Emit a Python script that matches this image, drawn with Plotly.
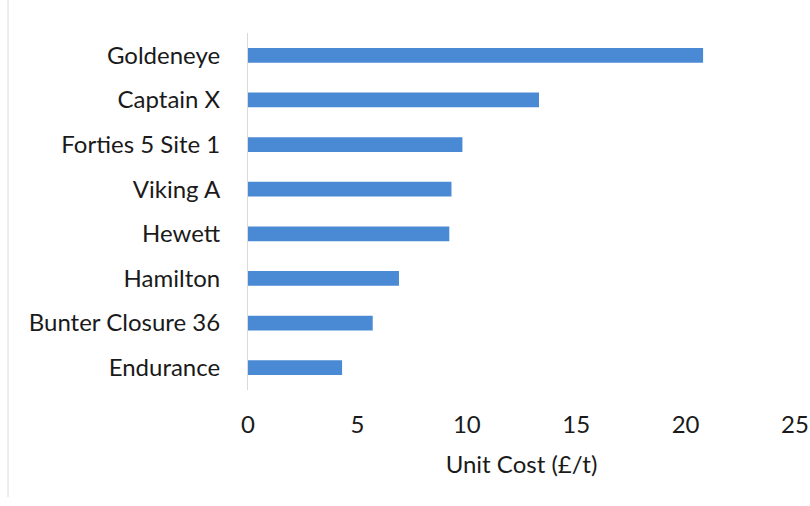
import plotly.graph_objects as go

# Storage sites, listed top to bottom, with unit cost in £ per tonne
sites = ["Goldeneye", "Captain X", "Forties 5 Site 1", "Viking A",
         "Hewett", "Hamilton", "Bunter Closure 36", "Endurance"]
unit_cost = [20.8, 13.3, 9.8, 9.3, 9.2, 6.9, 5.7, 4.3]
x_ticks = [0, 5, 10, 15, 20, 25]

FONT = "Lato"
TEXT = "#1a1a1a"

fig = go.Figure(
    go.Bar(
        x=unit_cost,
        y=sites,
        orientation="h",
        marker=dict(color="#4a8ad4", line=dict(width=0)),
    )
)

fig.update_layout(
    width=810,
    height=506,
    margin=dict(l=248, r=15, t=33, b=116),
    paper_bgcolor="white",
    plot_bgcolor="white",
    showlegend=False,
    bargap=0.67,
    font=dict(family=FONT, size=24, color=TEXT),
    xaxis=dict(
        range=[0, 25],
        tickvals=x_ticks,
        ticktext=[str(v) for v in x_ticks],
        automargin=False,
        showgrid=False,
        zeroline=False,
        showline=False,
        ticks="",
        ticklabelstandoff=18,
        tickfont=dict(family=FONT, size=24, color=TEXT),
        title=dict(text="Unit Cost (£/t)", standoff=19,
                   font=dict(family=FONT, size=24, color=TEXT)),
    ),
    yaxis=dict(
        categoryorder="array",
        categoryarray=sites,
        autorange="reversed",
        automargin=False,
        showgrid=False,
        zeroline=False,
        showline=True,
        linecolor="#d9d9d9",
        linewidth=1,
        ticks="",
        ticklabelstandoff=22,
        tickfont=dict(family=FONT, size=24, color=TEXT),
    ),
)

# faint chart-area border on the left edge
fig.add_shape(type="line", xref="paper", yref="paper",
              x0=-240 / 547, x1=-240 / 547, y0=-0.3, y1=1.1,
              line=dict(color="#dcdcdc", width=1))

fig.write_html("out.html")
